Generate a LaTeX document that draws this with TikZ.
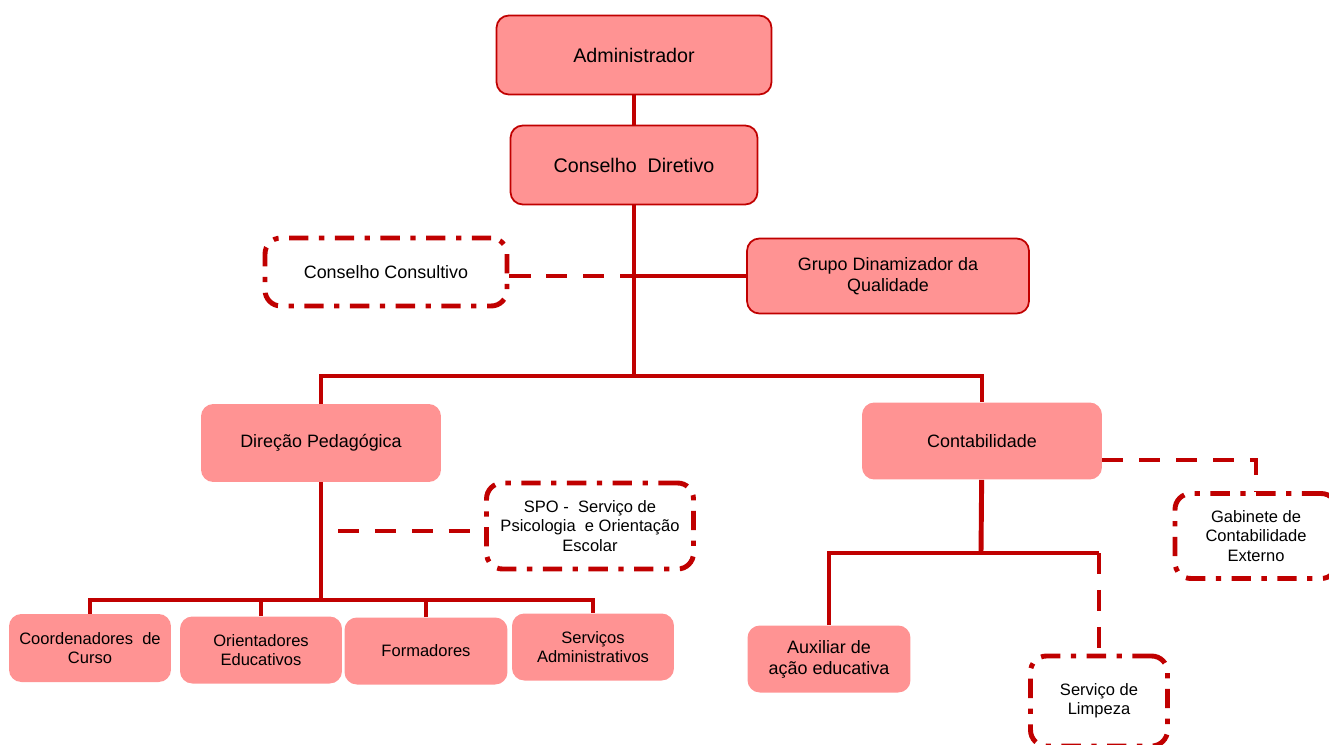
\documentclass[tikz,border=0pt]{standalone}
\usepackage{fontspec}
\setmainfont{Liberation Sans}
\usetikzlibrary{positioning}

\definecolor{linered}{RGB}{192,0,0}
\definecolor{boxpink}{RGB}{255,147,147}

\begin{document}
\begin{tikzpicture}[x=0.02cm, y=-0.02cm,
        link/.style={draw=linered, line width=2.8pt},
        dashlink/.style={link, dash pattern=on 12pt off 9pt},
        framedbox/.style={draw=linered, line width=1pt, fill=boxpink, rounded corners=7pt, align=center},
        plainbox/.style={fill=boxpink, rounded corners=7pt, align=center},
        extbox/.style={draw=linered, line width=2.8pt, fill=white, rounded corners=9pt, align=center,
            dash pattern=on 11pt off 6pt on 3pt off 6pt},
        bigtxt/.style={font=\fontsize{11.2}{13}\selectfont},
        midtxt/.style={font=\fontsize{10.2}{12}\selectfont},
        smalltxt/.style={font=\fontsize{9.4}{11}\selectfont}]

        % Page frame (same proportions as the chart)
        \useasboundingbox (0,0) rectangle (1329,744);

        % Top of the hierarchy
        \node[framedbox, bigtxt, minimum width=5.5cm, minimum height=1.58cm] (admin) at (634,55) {Administrador};
        \node[framedbox, bigtxt, minimum width=4.94cm, minimum height=1.58cm] (diretivo) at (634,165) {Conselho\ \ Diretivo};

        % Side bodies
        \node[extbox, midtxt, minimum width=4.84cm, minimum height=1.36cm] (consultivo) at (386,272) {Conselho Consultivo};
        \node[framedbox, midtxt, minimum width=5.64cm, minimum height=1.5cm] (grupo) at (888,276) {Grupo Dinamizador da\\Qualidade};

        % Two main departments
        \node[plainbox, midtxt, minimum width=4.8cm, minimum height=1.56cm] (direcao) at (321,443) {Direção Pedagógica};
        \node[plainbox, midtxt, minimum width=4.8cm, minimum height=1.54cm] (contab) at (982,441) {Contabilidade};

        % Outside services (dashed)
        \node[extbox, smalltxt, minimum width=4.14cm, minimum height=1.72cm] (spo) at (590,526) {SPO -\ \ Serviço de\\Psicologia\ \ e Orientação\\Escolar};
        \node[extbox, smalltxt, minimum width=3.24cm, minimum height=1.7cm] (gabinete) at (1256,536) {Gabinete de\\Contabilidade\\Externo};
        \node[extbox, smalltxt, minimum width=2.74cm, minimum height=1.8cm] (limpeza) at (1099,701) {Serviço de\\Limpeza};

        % Pedagogical teams
        \node[plainbox, smalltxt, minimum width=3.24cm, minimum height=1.36cm] (coord) at (90,648) {Coordenadores\ \ de\\Curso};
        \node[plainbox, smalltxt, minimum width=3.24cm, minimum height=1.34cm] (orient) at (261,650) {Orientadores\\Educativos};
        \node[plainbox, smalltxt, minimum width=3.26cm, minimum height=1.34cm] (form) at (426,651) {Formadores};
        \node[plainbox, smalltxt, minimum width=3.24cm, minimum height=1.34cm] (servadm) at (593,647) {Serviços\\Administrativos};

        % Support staff
        \node[plainbox, midtxt, minimum width=3.26cm, minimum height=1.34cm] (auxiliar) at (829,659) {Auxiliar de\\ação educativa};

        % Branch points
        \coordinate (split) at (634,376);
        \coordinate (dsplit) at (321,600);
        \coordinate (csplit) at (981,553);
        \coordinate (spoend) at (338,531);
        \coordinate (gcorner) at (1256,460);
        \coordinate (lcorner) at (limpeza.north |- csplit);

        % Main trunk
        \draw[link] (admin) -- (diretivo);
        \draw[link] (diretivo) -- (split);
        \draw[link] (grupo.west) -- (grupo.west -| diretivo);
        \draw[dashlink] (grupo.west -| consultivo.east) -- (grupo.west -| diretivo);
        \draw[link] (direcao.north) |- (split) -| (contab.north);

        % Pedagogical branch
        \draw[link] (direcao) -- (dsplit);
        \draw[link] (coord.north) |- (dsplit) -| (servadm.north);
        \draw[link] (orient.north) -- (orient.north |- dsplit);
        \draw[link] (form.north) -- (form.north |- dsplit);
        \draw[dashlink] (spoend) -- (spo.west |- spoend);

        % Accounting branch
        \draw[link] (contab) -- (csplit);
        \draw[link] (auxiliar.north) |- (csplit) -- (lcorner);
        \draw[dashlink] (lcorner) -- (limpeza.north);
        \draw[dashlink] (contab.east |- gcorner) -- (gcorner) -- (gabinete.north);

    \end{tikzpicture}
\end{document}
